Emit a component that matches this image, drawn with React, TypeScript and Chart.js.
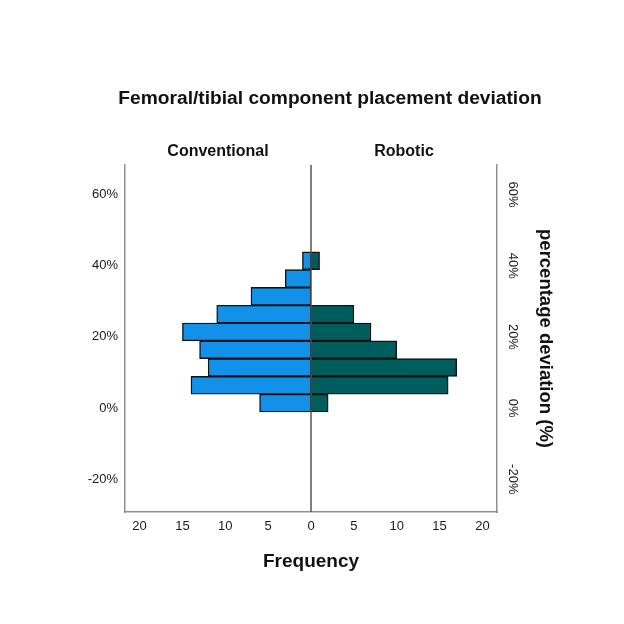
import React, { useEffect, useRef } from "react";
import { Chart, registerables } from "chart.js";

Chart.register(...registerables);

// ---- data ----
const binCenters = [1.4, 6.4, 11.4, 16.4, 21.4, 26.4, 31.4, 36.4, 41.4];
const conventional = [6, 14, 12, 13, 15, 11, 7, 3, 1];
const robotic = [2, 16, 17, 10, 7, 5, 0, 0, 1];
const yTicks = [-20, 0, 20, 40, 60];
const xTicks = [-20, -15, -10, -5, 0, 5, 10, 15, 20];
const groupLabels = ["Conventional", "Robotic"];
const chartTitle = "Femoral/tibial component placement deviation";
const xTitle = "Frequency";
const yTitle = "percentage deviation (%)";

const FONT = "'Liberation Sans', Arial, sans-serif";

const overlayPlugin = {
  id: "overlay",
  afterDatasetsDraw(chart: any) {
    const { ctx, chartArea, scales } = chart;
    const x = scales.x;
    const x0 = x.getPixelForValue(0);
    ctx.save();
    ctx.strokeStyle = "#555555";
    ctx.lineWidth = 1.5;
    ctx.beginPath();
    ctx.moveTo(x0, chartArea.top);
    ctx.lineTo(x0, chartArea.bottom);
    ctx.stroke();

    ctx.font = `bold 16px ${FONT}`;
    ctx.fillStyle = "#111111";
    ctx.textAlign = "center";
    ctx.textBaseline = "middle";
    const lx = (x.getPixelForValue(x.min) + x0) / 2;
    const rx = (x0 + x.getPixelForValue(x.max)) / 2;
    ctx.fillText(groupLabels[0], lx, chartArea.top - 13);
    ctx.fillText(groupLabels[1], rx, chartArea.top - 13);
    ctx.restore();
  },
};

export default function App() {
  const canvasRef = useRef<HTMLCanvasElement | null>(null);

  useEffect(() => {
    if (!canvasRef.current) return;
    Chart.defaults.font.family = FONT;
    const pct = (v: any) => `${v}%`;
    const yMin = -29.2;
    const yMax = 68.3;
    const axisBorder = { display: true, color: "#8f8f8f", width: 1.5 };

    const chart = new Chart(canvasRef.current, {
      type: "bar",
      data: {
        datasets: [
          {
            label: groupLabels[0],
            data: binCenters.map((y, i) => ({ x: -conventional[i], y })),
            backgroundColor: "#1192e8",
            borderColor: "#111111",
            borderWidth: 1.4,
            borderSkipped: false,
            barPercentage: 1,
            categoryPercentage: 1,
          },
          {
            label: groupLabels[1],
            data: binCenters.map((y, i) => ({ x: robotic[i], y })),
            backgroundColor: "#005d5d",
            borderColor: "#111111",
            borderWidth: 1.4,
            borderSkipped: false,
            barPercentage: 1,
            categoryPercentage: 1,
          },
        ],
      } as any,
      options: {
        indexAxis: "y",
        animation: false,
        responsive: false,
        layout: { padding: { left: 36, right: 0, top: 0, bottom: 0 } },
        plugins: {
          legend: { display: false },
          tooltip: { enabled: false },
          title: {
            display: true,
            text: chartTitle,
            color: "#111111",
            font: { size: 19.2, weight: "bold", family: FONT },
            padding: { top: 87.5, bottom: 54.5 },
          },
        },
        scales: {
          x: {
            type: "linear",
            min: -21.7,
            max: 21.7,
            stacked: true,
            offset: false,
            afterBuildTicks: (s: any) => {
              s.ticks = xTicks.map((v) => ({ value: v }));
            },
            afterFit: (s: any) => {
              s.height = 112;
            },
            grid: { display: false, drawTicks: false, offset: false },
            border: axisBorder,
            ticks: {
              callback: (v: any) => String(Math.abs(Number(v))),
              color: "#1a1a1a",
              font: { size: 13, family: FONT },
              padding: 7,
              maxRotation: 0,
              autoSkip: false,
            },
            title: {
              display: true,
              text: xTitle,
              color: "#111111",
              font: { size: 19, weight: "bold", family: FONT },
              padding: { top: 0, bottom: 51 },
            },
          },
          y: {
            type: "linear",
            position: "left",
            min: yMin,
            max: yMax,
            stacked: true,
            offset: false,
            afterBuildTicks: (s: any) => {
              s.ticks = yTicks.map((v) => ({ value: v }));
            },
            afterFit: (s: any) => {
              s.width = 89;
            },
            grid: { display: false, drawTicks: false, offset: false },
            border: axisBorder,
            ticks: {
              callback: pct,
              color: "#1a1a1a",
              font: { size: 13, family: FONT },
              padding: 7,
              autoSkip: false,
            },
          },
          y2: {
            type: "linear",
            position: "right",
            min: yMin,
            max: yMax,
            offset: false,
            afterBuildTicks: (s: any) => {
              s.ticks = yTicks.map((v) => ({ value: v }));
            },
            afterFit: (s: any) => {
              s.width = 127;
            },
            grid: { display: false, drawTicks: false, offset: false },
            border: axisBorder,
            ticks: {
              callback: pct,
              color: "#1a1a1a",
              font: { size: 13, family: FONT },
              padding: 0,
              minRotation: -90,
              maxRotation: -90,
              crossAlign: "center",
              autoSkip: false,
            },
            title: {
              display: true,
              text: yTitle,
              color: "#111111",
              font: { size: 18.5, weight: "bold", family: FONT },
              padding: { top: 68, bottom: 0 },
            },
          },
        },
      } as any,
      plugins: [overlayPlugin],
    });

    return () => chart.destroy();
  }, []);

  return (
    <div style={{ position: "fixed", left: 0, top: 0, width: 624, height: 624, background: "#ffffff" }}>
      <canvas ref={canvasRef} width={624} height={624} style={{ width: 624, height: 624 }} />
    </div>
  );
}
